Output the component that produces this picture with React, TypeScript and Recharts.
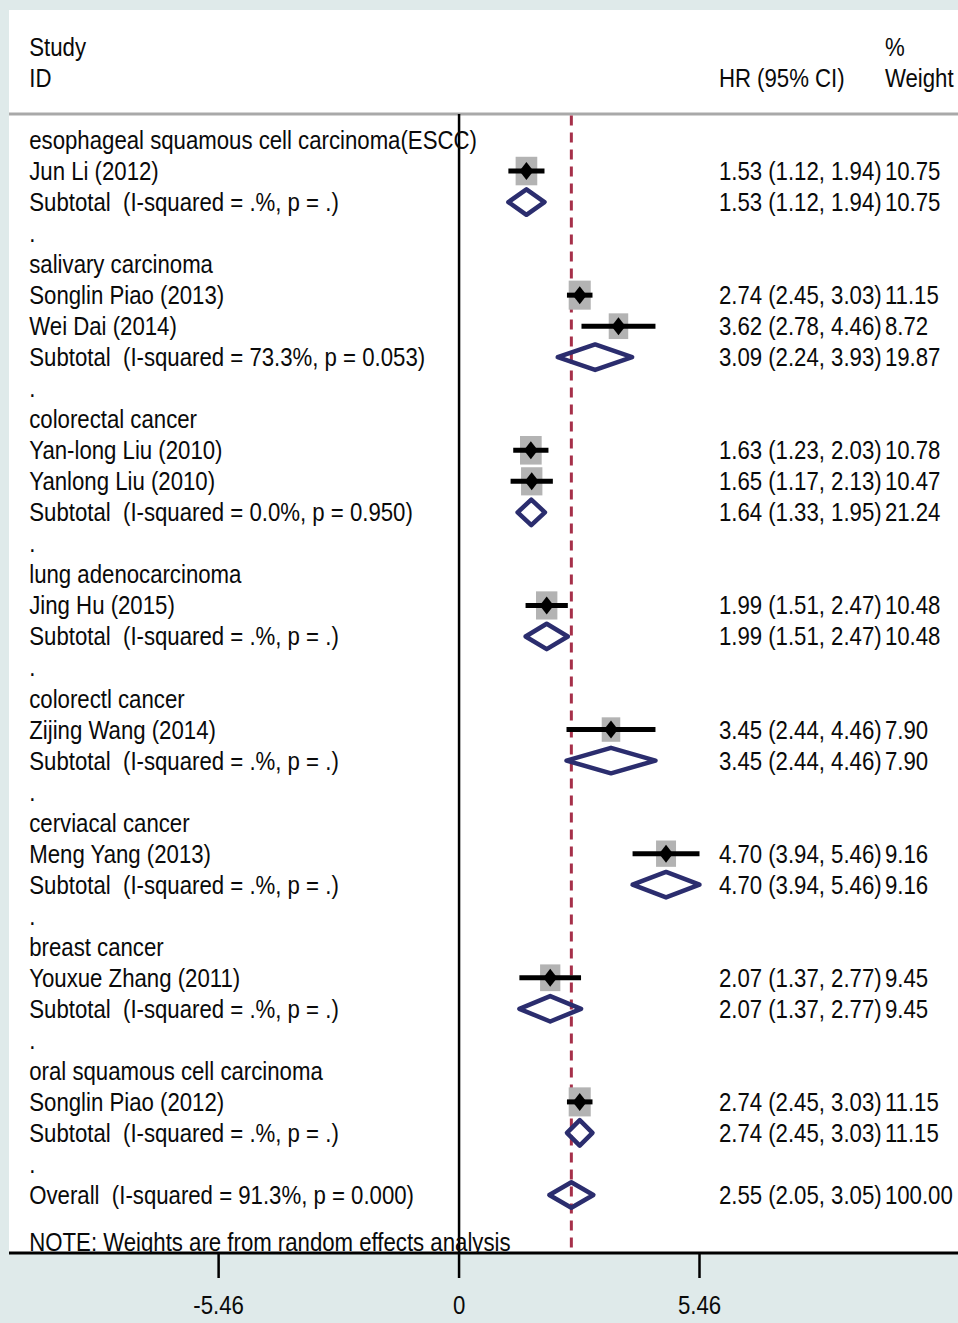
import React from "react"
import { ComposedChart, Scatter, XAxis, YAxis, ReferenceLine, CartesianGrid } from "recharts"

// subgroups, in plot order
const groupNames = [
  "esophageal squamous cell carcinoma(ESCC)",
  "salivary carcinoma",
  "colorectal cancer",
  "lung adenocarcinoma",
  "colorectl cancer",
  "cerviacal cancer",
  "breast cancer",
  "oral squamous cell carcinoma",
]

// individual studies
const studyLabels = [
  "Jun Li (2012)",
  "Songlin Piao (2013)",
  "Wei Dai (2014)",
  "Yan-long Liu (2010)",
  "Yanlong Liu (2010)",
  "Jing Hu (2015)",
  "Zijing Wang (2014)",
  "Meng Yang (2013)",
  "Youxue Zhang (2011)",
  "Songlin Piao (2012)",
]
const studyGroup = [0, 1, 1, 2, 2, 3, 4, 5, 6, 7]
const studyHR = [1.53, 2.74, 3.62, 1.63, 1.65, 1.99, 3.45, 4.7, 2.07, 2.74]
const studyLow = [1.12, 2.45, 2.78, 1.23, 1.17, 1.51, 2.44, 3.94, 1.37, 2.45]
const studyHigh = [1.94, 3.03, 4.46, 2.03, 2.13, 2.47, 4.46, 5.46, 2.77, 3.03]
const studyWeight = [10.75, 11.15, 8.72, 10.78, 10.47, 10.48, 7.9, 9.16, 9.45, 11.15]

// subtotals per group
const subtotalHet = [
  "I-squared = .%, p = .",
  "I-squared = 73.3%, p = 0.053",
  "I-squared = 0.0%, p = 0.950",
  "I-squared = .%, p = .",
  "I-squared = .%, p = .",
  "I-squared = .%, p = .",
  "I-squared = .%, p = .",
  "I-squared = .%, p = .",
]
const subtotalHR = [1.53, 3.09, 1.64, 1.99, 3.45, 4.7, 2.07, 2.74]
const subtotalLow = [1.12, 2.24, 1.33, 1.51, 2.44, 3.94, 1.37, 2.45]
const subtotalHigh = [1.94, 3.93, 1.95, 2.47, 4.46, 5.46, 2.77, 3.03]
const subtotalWeight = [10.75, 19.87, 21.24, 10.48, 7.9, 9.16, 9.45, 11.15]

// overall
const overallHet = "I-squared = 91.3%, p = 0.000"
const overallHR = 2.55
const overallLow = 2.05
const overallHigh = 3.05
const overallWeight = 100.0

const xTicks = [-5.46, 0, 5.46]

// layout / style
const FONT = "'Liberation Sans', Arial, sans-serif"
const FS = 25
const SQUEEZE = 0.888
const NAVY = "#2b2d6e"
const X_DOMAIN: [number, number] = [-10.22, 11.33]
const Y_DOMAIN: [number, number] = [-4.19, 35.87]
const SEP_ROW = -0.84
const LABEL_COL = -9.76
const CI_COL = 5.9
const WT_COL = 9.67
const DIAMOND_H = 0.41

const fmtCI = (hr: number, lo: number, hi: number) =>
  `${hr.toFixed(2)} (${lo.toFixed(2)}, ${hi.toFixed(2)})`

type TextRow = { row: number; label: string; ci?: string; wt?: string }

const textRows: TextRow[] = []
const studyPts: any[] = []
const ciLines: { x: number; y: number }[][] = []
const diamonds: { x: number; y: number }[][] = []

const diamondPath = (hr: number, lo: number, hi: number, row: number) => [
  { x: lo, y: row },
  { x: hr, y: row - DIAMOND_H },
  { x: hi, y: row },
  { x: hr, y: row + DIAMOND_H },
  { x: lo, y: row },
  { x: hr, y: row - DIAMOND_H },
]

let r = 0
groupNames.forEach((g, gi) => {
  textRows.push({ row: r++, label: g })
  studyLabels.forEach((s, i) => {
    if (studyGroup[i] !== gi) return
    textRows.push({
      row: r,
      label: s,
      ci: fmtCI(studyHR[i], studyLow[i], studyHigh[i]),
      wt: studyWeight[i].toFixed(2),
    })
    studyPts.push({ x: studyHR[i], y: r, w: studyWeight[i] })
    ciLines.push([
      { x: studyLow[i], y: r },
      { x: studyHigh[i], y: r },
    ])
    r++
  })
  textRows.push({
    row: r,
    label: `Subtotal  (${subtotalHet[gi]})`,
    ci: fmtCI(subtotalHR[gi], subtotalLow[gi], subtotalHigh[gi]),
    wt: subtotalWeight[gi].toFixed(2),
  })
  diamonds.push(diamondPath(subtotalHR[gi], subtotalLow[gi], subtotalHigh[gi], r))
  r++
  textRows.push({ row: r++, label: "." })
})
textRows.push({
  row: r,
  label: `Overall  (${overallHet})`,
  ci: fmtCI(overallHR, overallLow, overallHigh),
  wt: overallWeight.toFixed(2),
})
diamonds.push(diamondPath(overallHR, overallLow, overallHigh, r))
textRows.push({ row: r + 1.5, label: "NOTE: Weights are from random effects analysis" })

const headerRows = [
  { col: LABEL_COL, row: -3, text: "Study" },
  { col: LABEL_COL, row: -2, text: "ID" },
  { col: CI_COL, row: -2, text: "HR (95% CI)" },
  { col: WT_COL, row: -3, text: "%" },
  { col: WT_COL, row: -2, text: "Weight" },
]

const labelData = [
  ...headerRows.map((h) => ({ x: h.col, y: h.row, text: h.text })),
  ...textRows.map((t) => ({ x: LABEL_COL, y: t.row, text: t.label })),
  ...textRows.filter((t) => t.ci).map((t) => ({ x: CI_COL, y: t.row, text: t.ci })),
  ...textRows.filter((t) => t.wt).map((t) => ({ x: WT_COL, y: t.row, text: t.wt })),
]

const TextShape = (props: any) => {
  const { cx, cy, payload } = props
  return (
    <text
      transform={`translate(${cx},${cy}) scale(${SQUEEZE},1)`}
      y={9}
      fontSize={FS}
      fontFamily={FONT}
      fill="#0a0a0a"
      style={{ whiteSpace: "pre" }}
    >
      {payload.text}
    </text>
  )
}

const BoxShape = (props: any) => {
  const { cx, cy, payload } = props
  const w = 6.6 * Math.sqrt(payload.w)
  const h = 8.7 * Math.sqrt(payload.w)
  return <rect x={cx - w / 2} y={cy - h / 2} width={w} height={h} fill="#b3b3b3" />
}

const PointShape = (props: any) => {
  const { cx, cy } = props
  return <path d={`M${cx - 7},${cy} L${cx},${cy - 9} L${cx + 7},${cy} L${cx},${cy + 9} Z`} fill="#000" />
}

const Hidden = () => <g />

const AxisTick = (props: any) => {
  const { x, y, payload } = props
  return (
    <text
      transform={`translate(${x},${y}) scale(${SQUEEZE},1)`}
      y={22}
      textAnchor="middle"
      fontSize={FS}
      fontFamily={FONT}
      fill="#0a0a0a"
    >
      {String(payload.value)}
    </text>
  )
}

export default function App() {
  return (
    <div style={{ position: "absolute", left: 0, top: 0, width: 958, height: 1323, background: "#dfeaea" }}>
      <ComposedChart width={958} height={1323} margin={{ top: 10, right: 0, left: 9, bottom: 0 }}>
        <CartesianGrid fill="#fff" horizontal={false} vertical={false} />
        <XAxis
          type="number"
          dataKey="x"
          domain={X_DOMAIN}
          allowDataOverflow
          ticks={xTicks}
          height={70}
          tickSize={25}
          tickMargin={14}
          axisLine={{ stroke: "#000", strokeWidth: 3 }}
          tickLine={{ stroke: "#000", strokeWidth: 2.5 }}
          tick={<AxisTick />}
        />
        <YAxis type="number" dataKey="y" domain={Y_DOMAIN} reversed hide allowDataOverflow />
        <ReferenceLine y={SEP_ROW} stroke="#a9a9a9" strokeWidth={3} />
        <Scatter data={labelData} shape={<TextShape />} isAnimationActive={false} />
        <ReferenceLine
          segment={[
            { x: 0, y: SEP_ROW },
            { x: 0, y: Y_DOMAIN[1] },
          ]}
          stroke="#000"
          strokeWidth={2.5}
        />
        <ReferenceLine
          segment={[
            { x: overallHR, y: SEP_ROW + 0.05 },
            { x: overallHR, y: Y_DOMAIN[1] },
          ]}
          stroke="#a6304a"
          strokeWidth={3}
          strokeDasharray="10 7"
        />
        <Scatter data={studyPts} shape={<BoxShape />} isAnimationActive={false} />
        {ciLines.map((d, i) => (
          <Scatter
            key={`ci${i}`}
            data={d}
            shape={<Hidden />}
            line={{ stroke: "#000", strokeWidth: 5 }}
            isAnimationActive={false}
          />
        ))}
        <Scatter data={studyPts} shape={<PointShape />} isAnimationActive={false} />
        {diamonds.map((d, i) => (
          <Scatter
            key={`d${i}`}
            data={d}
            shape={<Hidden />}
            line={{ stroke: NAVY, strokeWidth: 4.5, strokeLinejoin: "round" }}
            isAnimationActive={false}
          />
        ))}
      </ComposedChart>
    </div>
  )
}
